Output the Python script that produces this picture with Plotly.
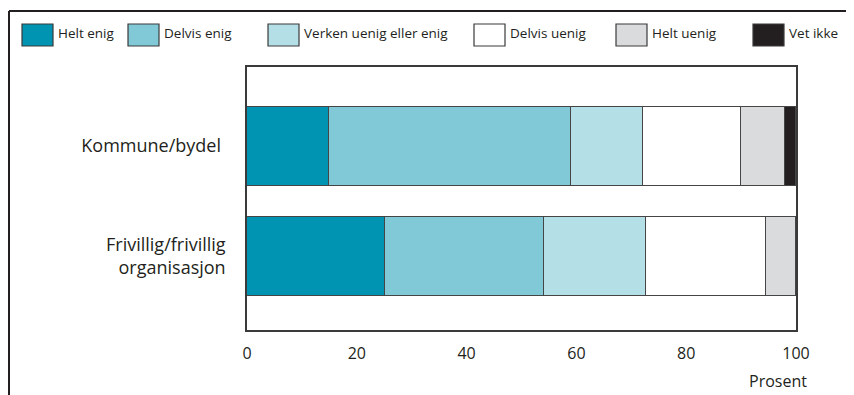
import plotly.graph_objects as go

# kategorier og svarandeler (prosent)
categories = ["Kommune/bydel ", "Frivillig/frivillig<br>organisasjon"]
answers = ["Helt enig", "Delvis enig", "Verken uenig eller enig", "Delvis uenig", "Helt uenig", "Vet ikke"]
helt_enig = [15, 25.2]
delvis_enig = [44, 28.9]
verken = [13.1, 18.6]
delvis_uenig = [17.9, 21.8]
helt_uenig = [8, 5.5]
vet_ikke = [2, 0]
colors = ["#0093b2", "#82c9d8", "#b5dfe7", "#ffffff", "#dadbdd", "#231f20"]

series = [helt_enig, delvis_enig, verken, delvis_uenig, helt_uenig, vet_ikke]
ypos = list(range(len(categories)))

fig = go.Figure()
for name, vals, col in zip(answers, series, colors):
    fig.add_trace(go.Bar(
        y=ypos, x=vals, name=name, orientation="h", width=0.715,
        marker=dict(color=col, line=dict(color="#454545", width=1.2)),
        showlegend=False,
    ))

# page has an 8px body margin, so the figure starts at (8, 8) on screen
OFF = 8
W, H = 854 - OFF, 395 - OFF
# plot area on screen: x 247-796, y 67-330
L, R, T, B = 247 - OFF, 854 - 796, 67 - OFF, 395 - 330
pw, ph = W - L - R, H - T - B

def px(x):
    return (x - OFF - L) / pw

def py(y):
    return (H - B - (y - OFF)) / ph

shapes = []
annotations = []
# outer frame (top + left)
shapes.append(dict(type="line", xref="paper", yref="paper", x0=px(9), x1=px(870), y0=py(11), y1=py(11),
                   line=dict(color="#231f20", width=2)))
shapes.append(dict(type="line", xref="paper", yref="paper", x0=px(9), x1=px(9), y0=py(11), y1=py(420),
                   line=dict(color="#231f20", width=2)))

# manual legend
key_x = [22, 128, 268, 474, 616, 753]
for name, col, kx in zip(answers, colors, key_x):
    shapes.append(dict(type="rect", xref="paper", yref="paper",
                       x0=px(kx), x1=px(kx + 31), y0=py(46), y1=py(24),
                       fillcolor=col, line=dict(color="#3a3a3a", width=1.2)))
    annotations.append(dict(xref="paper", yref="paper", x=px(kx + 34), y=py(33),
                            text=name, showarrow=False, xanchor="left", yanchor="middle",
                            font=dict(size=13.5, color="#231f20")))

annotations.append(dict(xref="paper", yref="paper", x=px(809), y=py(381), text="Prosent",
                        showarrow=False, xanchor="right", yanchor="middle",
                        font=dict(size=16, color="#231f20")))

fig.update_layout(
    barmode="stack",
    width=W, height=H,
    margin=dict(l=L, r=R, t=T, b=B, pad=0),
    paper_bgcolor="white", plot_bgcolor="white",
    font=dict(family="Open Sans", color="#231f20"),
    shapes=shapes, annotations=annotations,
    bargap=0,
)
fig.update_xaxes(range=[0, 100], tickvals=[0, 20, 40, 60, 80, 100], showgrid=False, zeroline=False,
                 showline=True, mirror=True, linecolor="#3a3a3a", linewidth=1.5,
                 ticks="", tickfont=dict(size=16), ticklabelstandoff=8)
fig.update_yaxes(range=[1.665, -0.715], tickvals=ypos, ticktext=categories, showgrid=False, zeroline=False,
                 showline=True, mirror=True, linecolor="#3a3a3a", linewidth=1.5,
                 ticks="", tickfont=dict(size=18), ticklabelstandoff=16)

fig.write_html("out.html")
